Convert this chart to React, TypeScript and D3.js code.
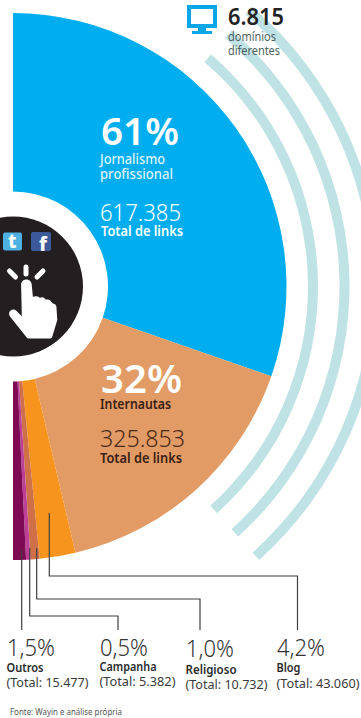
import React from "react";
import * as d3 from "d3";

// Links by source type, in clockwise order around the half disc
const sourceNames = ["Jornalismo profissional", "Internautas", "Blog", "Religioso", "Campanha", "Outros"];
const sourceLinks = [617385, 325853, 43060, 10732, 5382, 15477];
const sourceColors = ["#00aeef", "#e29b64", "#f7941e", "#cf7048", "#bd3f96", "#7d0a52"];

// Small sources listed under the chart, left to right
const minorNames = ["Outros", "Campanha", "Religioso", "Blog"];
const minorShares = ["1,5%", "0,5%", "1,0%", "4,2%"];
const minorTotals = ["(Total: 15.477)", "(Total: 5.382)", "(Total: 10.732)", "(Total: 43.060)"];

const W = 361;
const H = 718;
const FONT = "'Noto Sans', sans-serif";

const cx = 13;
const cy = 286.5;
const outerR = 273.5;
const ringR = 95;
const discR = 70;
const waveRadii = [300, 331.5, 363];

const pie = d3
  .pie<number>()
  .sort(null)
  .startAngle(0)
  .endAngle(Math.PI);
const slices = pie(sourceLinks);
const sliceArc = d3.arc<d3.PieArcDatum<number>>().innerRadius(ringR).outerRadius(outerR);

const deg = (d: number) => (d * Math.PI) / 180;
const waveArc = d3
  .arc<number>()
  .innerRadius((r) => r - 5)
  .outerRadius((r) => r + 5)
  .startAngle(deg(40.5))
  .endAngle(deg(138));

type LabelProps = {
  x: number;
  y: number;
  w?: number;
  size: number;
  weight?: number;
  fill: string;
  children: string;
};

// Text squeezed to a set width, standing in for the condensed headline face
function Label({ x, y, w, size, weight = 400, fill, children }: LabelProps) {
  return (
    <text
      x={x}
      y={y}
      fontFamily={FONT}
      fontSize={size}
      fontWeight={weight}
      fill={fill}
      textLength={w}
      lengthAdjust={w ? "spacingAndGlyphs" : undefined}
    >
      {children}
    </text>
  );
}

const columns = [
  { x: 7, pctY: 656, nameY: 672, totalY: 687, nameW: 37, totalW: 82 },
  { x: 100, pctY: 656, nameY: 671, totalY: 686, nameW: 57, totalW: 76 },
  { x: 186, pctY: 657, nameY: 674, totalY: 689, nameW: 51, totalW: 82 },
  { x: 277, pctY: 656, nameY: 672, totalY: 688, nameW: 24, totalW: 83 },
];

const leaders = [
  [[21.7, 550], [21.7, 630]],
  [[29.7, 548], [29.7, 616], [118, 616], [118, 630]],
  [[36.7, 548], [36.7, 599], [200, 599], [200, 630]],
  [[49.3, 513], [49.3, 576], [297.5, 576], [297.5, 630]],
] as [number, number][][];
const leaderLine = d3.line();

const handPath =
  "M26.5 279.5c2.8 0 5 2.2 5.2 5l1.2 12.3 3-.6c1.8-.3 3 .5 3.8 1.6l1.8-.4c2-.4 3.4.7 4 2.2l2.2-.2c1.6-.1 2.8.9 3.3 2.2l1.8 1.8c1.6 0 3.2 1.2 3.6 3.2l.9 13.3-5 16.5c-.4 1.5-1.5 2.2-3 2.2H29.5c-1.4 0-2.5-.6-3.2-1.7L10 316.5c-1.3-2-1.2-4.4.6-6 1.8-1.5 4-1.4 5.7.2l5.5 5.5-.7-31.6c0-2.9 2.2-5.1 5.4-5.1z";

export default function App() {
  return (
    <svg
      width={W}
      height={H}
      viewBox={`0 0 ${W} ${H}`}
      style={{ position: "absolute", left: 0, top: 0, background: "#fff" }}
    >
      <g transform={`translate(${cx},${cy})`}>
        {waveRadii.map((r) => (
          <path key={r} d={waveArc(r) ?? ""} fill="#bfe2e5" />
        ))}
        {slices.map((s, i) => (
          <path key={sourceNames[i]} d={sliceArc(s) ?? ""} fill={sourceColors[i]} />
        ))}
        <circle r={discR} fill="#231f20" />
      </g>

      {/* Social badges and tapping hand on the black disc */}
      <rect x={3} y={232.5} width={19} height={18} rx={2} fill="#4db2e2" />
      <text x={8} y={248} fontFamily={FONT} fontSize={19} fontWeight={800} fill="#fff">
        t
      </text>
      <rect x={31} y={232} width={20} height={19} rx={2} fill="#3c5a9a" />
      <text x={39} y={251} fontFamily={FONT} fontSize={20} fontWeight={800} fill="#fff">
        f
      </text>
      <g stroke="#fff" strokeWidth={5} strokeLinecap="round">
        <line x1={26} y1={267} x2={26} y2={274} />
        <line x1={9.5} y1={271} x2={15.5} y2={277} />
        <line x1={43} y1={271} x2={37} y2={277} />
      </g>
      <path d={handPath} fill="#fff" />

      {/* Domain count beside the monitor icon */}
      <rect x={189} y={7} width={26} height={19} fill="none" stroke="#0aa6e8" strokeWidth={4} />
      <rect x={198} y={28} width={8} height={4} fill="#0aa6e8" />
      <rect x={192} y={31} width={20} height={3} fill="#0aa6e8" />
      <Label x={228} y={25} w={56} size={23} weight={600} fill="#222">6.815</Label>
      <Label x={228} y={41} w={48} size={12.5} fill="#4f5f60">domínios</Label>
      <Label x={228} y={55} w={52} size={12.5} fill="#4f5f60">diferentes</Label>

      {/* Labels inside the two big slices */}
      <Label x={101} y={145} w={78} size={38} weight={600} fill="#fff">61%</Label>
      <Label x={100} y={164} w={65} size={14} weight={500} fill="#dff2fc">Jornalismo</Label>
      <Label x={100} y={179} w={73} size={14} weight={500} fill="#dff2fc">profissional</Label>
      <Label x={100} y={220.5} w={81} size={24} weight={300} fill="#fff">617.385</Label>
      <Label x={101} y={236} w={82} size={13.5} weight={600} fill="#fff">Total de links</Label>

      <Label x={101} y={392.5} w={81} size={40} weight={600} fill="#fff">32%</Label>
      <Label x={100} y={409} w={71} size={13.5} weight={600} fill="#3a2115">Internautas</Label>
      <Label x={100} y={447} w={85} size={24} weight={300} fill="#4a2a18">325.853</Label>
      <Label x={100} y={463} w={82} size={13.5} weight={600} fill="#3a2115">Total de links</Label>

      {leaders.map((pts, i) => (
        <path key={i} d={leaderLine(pts) ?? ""} fill="none" stroke="#3f3f3f" strokeWidth={1.2} />
      ))}

      {minorNames.map((name, i) => {
        const c = columns[i];
        return (
          <g key={name}>
            <Label x={c.x} y={c.pctY} w={48} size={24} weight={300} fill="#333">{minorShares[i]}</Label>
            <Label x={c.x - 0.5} y={c.nameY} w={c.nameW} size={12.5} weight={600} fill="#2a2a2a">{name}</Label>
            <Label x={c.x - 0.5} y={c.totalY} w={c.totalW} size={12.5} fill="#3a3a3a">{minorTotals[i]}</Label>
          </g>
        );
      })}

      <Label x={10} y={715} w={112} size={8.5} fill="#555">Fonte: Wayin e análise própria</Label>
    </svg>
  );
}
